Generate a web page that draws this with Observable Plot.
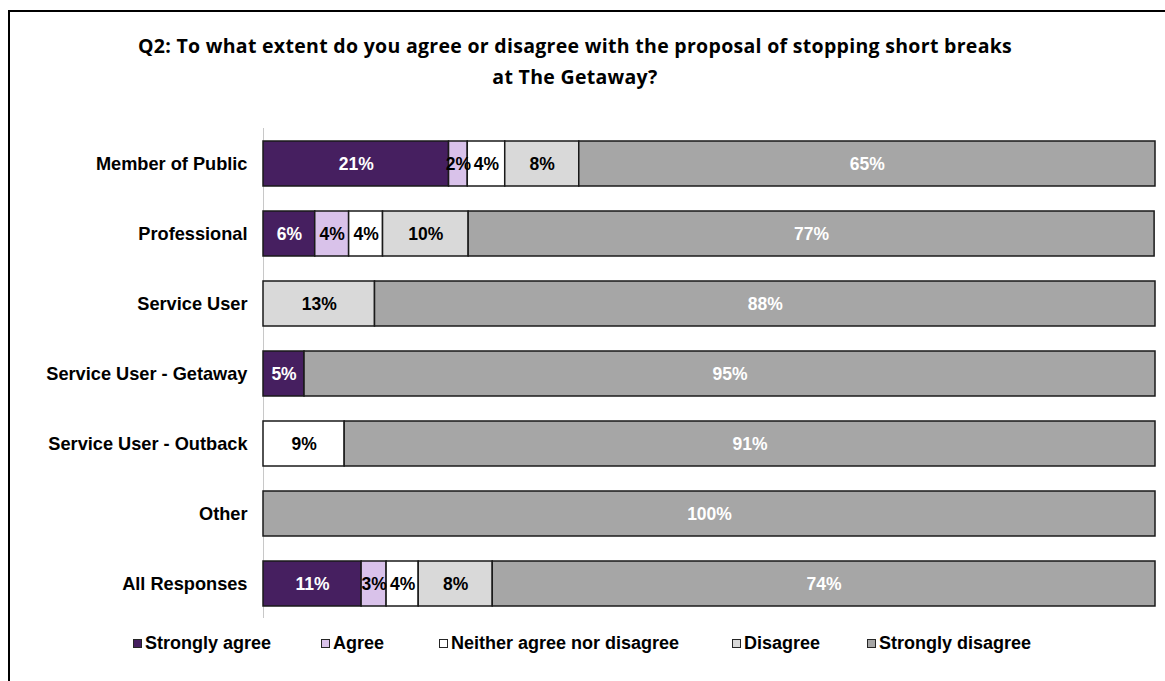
<!DOCTYPE html>
<html>
<head>
<meta charset="utf-8">
<script src="https://cdn.jsdelivr.net/npm/d3@7"></script>
<script src="https://cdn.jsdelivr.net/npm/@observablehq/plot@0.6"></script>
<style>
  html, body { margin: 0; padding: 0; background: #fff; width: 1165px; height: 681px; overflow: hidden; }
  #frame { position: absolute; left: 8px; top: 10px; width: 1300px; height: 800px; border: 2px solid #000; box-sizing: border-box; }
  #title { position: absolute; left: 0; top: 30px; width: 1150px; text-align: center; font-family: "Open Sans", Calibri, sans-serif; font-weight: bold; font-size: 19.5px; letter-spacing: 0.3px; line-height: 31px; color: #000; }
  #chart { position: absolute; left: 0; top: 110px; }
  #legend { position: absolute; top: 633px; left: 0; width: 1165px; font-family: "Liberation Sans", Arial, sans-serif; font-weight: bold; font-size: 18px; color: #000; }
  .item { position: absolute; top: 0; display: flex; align-items: center; white-space: nowrap; }
  .sw { width: 7px; height: 7px; border: 1.5px solid #262626; margin-right: 3px; }
</style>
</head>
<body>
<div id="frame"></div>
<div id="title">Q2: To what extent do you agree or disagree with the proposal of stopping short breaks<br>at The Getaway?</div>
<div id="chart"></div>
<div id="legend"></div>
<script>
const categories = ["Member of Public", "Professional", "Service User", "Service User - Getaway", "Service User - Outback", "Other", "All Responses"];
const responses = ["Strongly agree", "Agree", "Neither agree nor disagree", "Disagree", "Strongly disagree"];
const colors = ["#461f60", "#d9c2ea", "#ffffff", "#d9d9d9", "#a6a6a6"];
const labelColors = ["#ffffff", "#000000", "#000000", "#000000", "#ffffff"];
// percentages per response (rows follow categories order)
const stronglyAgree = [20.8, 5.8, 0, 4.6, 0, 0, 11.0];
const agree = [2.1, 3.8, 0, 0, 0, 0, 2.8];
const neither = [4.2, 3.8, 0, 0, 9.1, 0, 3.6];
const disagree = [8.3, 9.6, 12.5, 0, 0, 0, 8.3];
const stronglyDisagree = [64.6, 76.9, 87.5, 95.4, 90.9, 100, 74.3];
const series = [stronglyAgree, agree, neither, disagree, stronglyDisagree];

const data = [];
categories.forEach((c, i) => {
  responses.forEach((r, j) => {
    const v = series[j][i];
    if (v > 0) data.push({category: c, response: r, value: v, label: Math.round(v) + "%", labelColor: labelColors[j]});
  });
});

const plot = Plot.plot({
  width: 1165,
  height: 520,
  marginLeft: 263,
  marginRight: 10,
  marginTop: 18,
  marginBottom: 12,
  style: {fontFamily: "'Liberation Sans', Arial, sans-serif", fontSize: "18px", fontWeight: "bold", color: "#000", background: "transparent"},
  x: {domain: [0, 100], axis: null},
  y: {domain: categories, paddingInner: 0.36, paddingOuter: 0.18, label: null, axis: null},
  color: {domain: responses, range: colors},
  marks: [
    Plot.ruleX([0], {stroke: "#c8c8c8", strokeWidth: 1}),
    Plot.barX(data, Plot.stackX({x: "value", y: "category", fill: "response", stroke: "#1a1a1a", strokeWidth: 1.5, order: null})),
    Plot.text(data, Plot.stackX({x: "value", y: "category", text: "label", fill: "labelColor", fontSize: 17.5, fontWeight: "bold", order: null})),
    Plot.axisY({tickSize: 0, tickPadding: 16, fontSize: 18.2, fontWeight: "bold", label: null})
  ]
});
document.getElementById("chart").appendChild(plot);

const legendX = [133, 321, 439, 732, 867];
const legend = document.getElementById("legend");
responses.forEach((r, j) => {
  const item = document.createElement("div");
  item.className = "item";
  item.style.left = legendX[j] + "px";
  const sw = document.createElement("div");
  sw.className = "sw";
  sw.style.background = colors[j];
  item.appendChild(sw);
  const t = document.createElement("span");
  t.textContent = r;
  item.appendChild(t);
  legend.appendChild(item);
});
</script>
</body>
</html>
